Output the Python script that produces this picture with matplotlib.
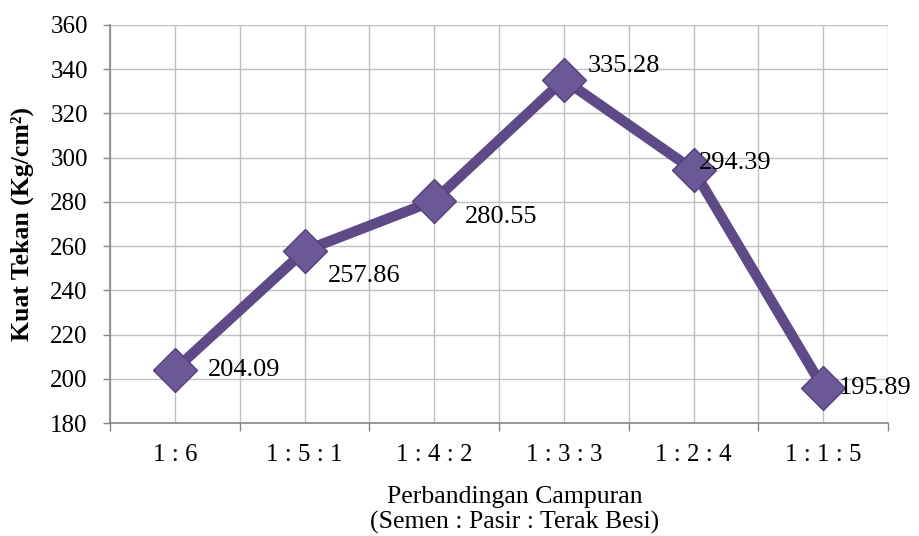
import matplotlib
matplotlib.use("Agg")
import matplotlib.pyplot as plt
import numpy as np

categories = ["1 : 6", "1 : 5 : 1", "1 : 4 : 2", "1 : 3 : 3", "1 : 2 : 4", "1 : 1 : 5"]
values = [204.09, 257.86, 280.55, 335.28, 294.39, 195.89]
y_ticks = [180, 200, 220, 240, 260, 280, 300, 320, 340, 360]

plt.rcParams['font.family'] = ['Liberation Serif', 'DejaVu Serif']

fig = plt.figure(figsize=(9.19, 5.36), dpi=100)
ax = fig.add_axes([0.1197, 0.2108, 0.8466, 0.7426])

x = np.arange(len(categories))
purple = "#5E4A86"
ax.plot(x, values, color=purple, lw=7.5, solid_joinstyle='miter', zorder=3)
ax.plot(x, values, ls='none', marker='D', markersize=22, markerfacecolor="#6B5896",
        markeredgecolor="#54417A", markeredgewidth=1, zorder=4)

offsets = [(24, 0), (17, -18), (22, -12), (17, 10), (4, 5), (11, 0)]
for xi, v, (dx, dy) in zip(x, values, offsets):
    ax.annotate(f"{v:.2f}", (xi, v), xytext=(dx, dy), textcoords='offset points',
                ha='left', va='center', fontsize=19, color='black', zorder=5)

ax.set_xlim(-0.5, len(categories) - 0.5)
ax.set_ylim(180, 360)
ax.set_yticks(y_ticks)
ax.set_yticklabels([str(t) for t in y_ticks], fontsize=18)

ax.set_xticks(np.arange(-0.5, len(categories), 1.0))
ax.set_xticklabels([])
ax.set_xticks(x, minor=True)
ax.set_xticklabels(categories, minor=True, fontsize=18)
ax.tick_params(axis='x', which='major', length=6, color='#868686', width=1)
ax.tick_params(axis='x', which='minor', length=0, pad=15)
ax.tick_params(axis='y', length=5, color='#868686', width=1, pad=11)

ax.grid(True, which='both', color='#BFBFBF', lw=1, zorder=0)
ax.set_axisbelow(True)
for s in ['top', 'right']:
    ax.spines[s].set_visible(False)
for s in ['left', 'bottom']:
    ax.spines[s].set_color('#868686')
    ax.spines[s].set_linewidth(1.2)

ax.set_ylabel("Kuat Tekan (Kg/cm²)", fontsize=18.5, fontweight='bold', labelpad=12)
fig.text(515 / 919, 1 - 510 / 536, "Perbandingan Campuran\n(Semen : Pasir : Terak Besi)",
         fontsize=18.5, ha='center', va='center', linespacing=1.2)

fig.savefig("out.png", dpi=100)
